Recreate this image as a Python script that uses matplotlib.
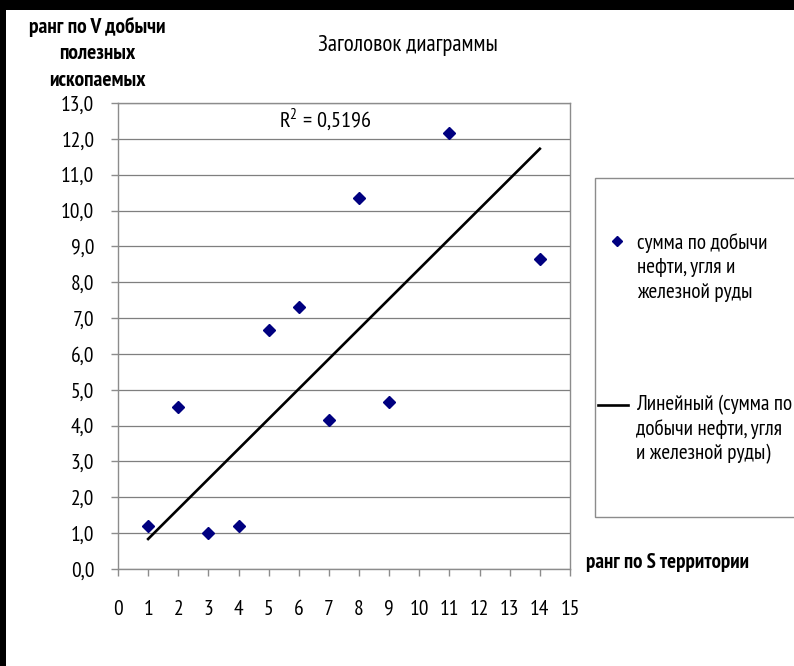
import matplotlib
matplotlib.use("Agg")
import matplotlib.pyplot as plt
import numpy as np
from matplotlib.patches import Rectangle
from matplotlib.lines import Line2D
from matplotlib.ticker import FuncFormatter

# ранги территорий и сумма рангов по добыче
rank_s = [1, 2, 3, 4, 5, 6, 7, 8, 9, 11, 14]
rank_v = [1.19, 4.53, 1.0, 1.19, 6.67, 7.31, 4.16, 10.34, 4.67, 12.16, 8.66]

x_ticks = list(range(0, 16))
y_ticks = list(range(0, 14))

title = "Заголовок диаграммы"
y_title = ["ранг по V добычи", "полезных", "ископаемых"]
x_title = "ранг по S территории"
r2_label = "R$^2$ = 0,5196"
series_label = ["сумма по добычи", "нефти, угля и", "железной руды"]
trend_label = ["Линейный (сумма по", "добычи нефти, угля", "и железной руды)"]

plt.rcParams['font.family'] = ['PT Sans Narrow', 'DejaVu Sans']
plt.rcParams['mathtext.fontset'] = 'custom'
plt.rcParams['mathtext.rm'] = 'PT Sans Narrow'

W, H = 794, 666
fig = plt.figure(figsize=(W / 100, H / 100), dpi=100)
fig.patch.set_facecolor('black')
fig.patches.append(Rectangle((6 / W, 0), 1, 1 - 10 / H, transform=fig.transFigure,
                             facecolor='white', edgecolor='none', zorder=-5))


def fx(px):
    return px / W


def fy(py):
    return 1 - py / H


ax = fig.add_axes([fx(118), fy(569), fx(570) - fx(118), fy(103) - fy(569)])
ax.set_facecolor('white')

xs = np.array(rank_s, dtype=float)
ys = np.array(rank_v, dtype=float)

# линия тренда через начало координат (пересечение = 0)
k = (xs * ys).sum() / (xs * xs).sum()
ax.plot([xs.min(), xs.max()], [k * xs.min(), k * xs.max()], color='black', lw=1.9, zorder=3)

ax.plot(xs, ys, linestyle='none', marker='D', markersize=6.3, color='#000080', zorder=4)

ax.set_xlim(0, 15)
ax.set_ylim(0, 13)
ax.set_xticks(x_ticks)
ax.set_yticks(y_ticks)
ax.yaxis.set_major_formatter(FuncFormatter(lambda v, p: f"{v:.1f}".replace('.', ',')))
ax.grid(axis='y', color='#7f7f7f', lw=0.9)
ax.set_axisbelow(True)
for s in ax.spines.values():
    s.set_color('#8c8c8c')
    s.set_linewidth(1.0)
ax.tick_params(axis='both', colors='#8c8c8c', labelcolor='black', length=5, width=1,
               labelsize=15.5, direction='out')
ax.tick_params(axis='x', pad=17)
ax.tick_params(axis='y', pad=12)

fig.text(fx(408), fy(45), title, ha='center', va='center', fontsize=16.5)
for i, line in enumerate(y_title):
    fig.text(fx(97), fy(27 + 26.5 * i), line, ha='center', va='center', fontsize=15.5,
             fontweight='bold')
fig.text(fx(586), fy(563), x_title, ha='left', va='center', fontsize=15, fontweight='bold')
ax.text(0.458, 0.963, r2_label, transform=ax.transAxes, ha='center', va='center', fontsize=16)

# легенда
fig.patches.append(Rectangle((fx(595), fy(517)), fx(800) - fx(595), fy(178) - fy(517),
                             transform=fig.transFigure, facecolor='white',
                             edgecolor='#8c8c8c', lw=1.0))
fig.lines.append(Line2D([fx(617)], [fy(241)], transform=fig.transFigure, marker='D',
                        markersize=5, color='#000080', linestyle='none'))
for i, line in enumerate(series_label):
    fig.text(fx(637), fy(243 + 24.5 * i), line, ha='left', va='center', fontsize=15.3)
fig.lines.append(Line2D([fx(598), fx(628)], [fy(405), fy(405)], transform=fig.transFigure,
                        color='black', lw=1.9))
for i, line in enumerate(trend_label):
    fig.text(fx(636), fy(405 + 24.5 * i), line, ha='left', va='center', fontsize=15.3)

fig.savefig("out.png", dpi=100, facecolor=fig.get_facecolor())
